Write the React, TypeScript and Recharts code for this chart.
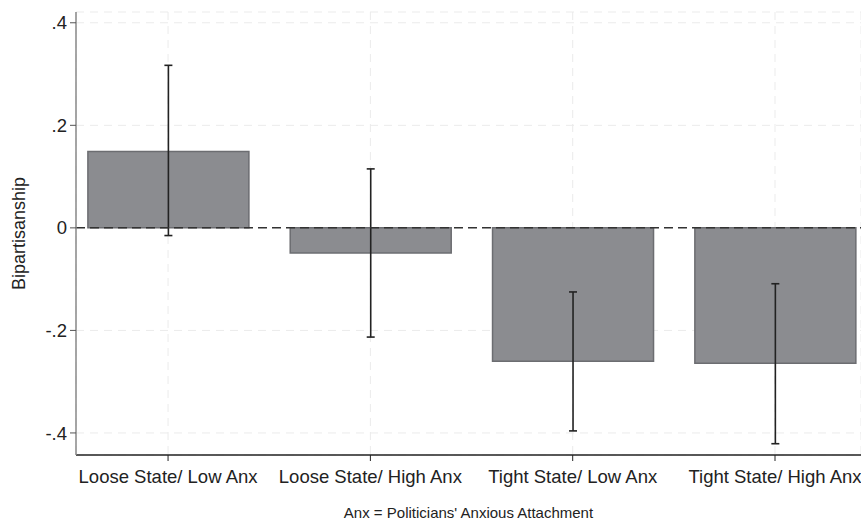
import { BarChart, Bar, XAxis, YAxis, CartesianGrid, ReferenceLine, ErrorBar } from 'recharts';

const categories = ['Loose State/ Low Anx', 'Loose State/ High Anx', 'Tight State/ Low Anx', 'Tight State/ High Anx'];
const means = [0.149, -0.049, -0.26, -0.264];
const ciLow = [-0.015, -0.213, -0.396, -0.421];
const ciHigh = [0.317, 0.115, -0.125, -0.109];
const yTicks = [-0.4, -0.2, 0, 0.2, 0.4];

const data = categories.map((name, i) => ({
  pos: i + 1,
  name,
  value: means[i],
  err: [means[i] - ciLow[i], ciHigh[i] - means[i]],
}));

const font = 'Liberation Sans, Arial, sans-serif';

const fmtY = (v: number) => (v === 0 ? '0' : v.toFixed(1).replace('0.', '.'));

export default function App() {
  return (
    <div style={{ position: 'absolute', left: 0, top: 0, width: 861, height: 520, background: '#fff', fontFamily: font }}>
      <BarChart width={861} height={520} data={data} margin={{ top: 12, right: 0, left: 0, bottom: 0 }}>
        <CartesianGrid stroke="#ebebeb" strokeDasharray="8 6" />
        <XAxis
          dataKey="pos"
          type="number"
          domain={[0.545, 4.425]}
          ticks={[1, 2, 3, 4]}
          tickFormatter={(v: number) => categories[v - 1]}
          height={65}
          axisLine={{ stroke: '#222', strokeWidth: 1.5 }}
          tickLine={{ stroke: '#222' }}
          tickSize={6}
          tickMargin={9}
          tick={{ fill: '#222', fontSize: 18.5, fontFamily: font }}
          interval={0}
          allowDataOverflow
          label={{ value: "Anx = Politicians' Anxious Attachment", position: 'insideBottom', offset: 2, fill: '#222', fontSize: 15, fontFamily: font }}
        />
        <YAxis
          type="number"
          domain={[-0.443, 0.421]}
          ticks={yTicks}
          tickFormatter={fmtY}
          width={76}
          allowDataOverflow
          axisLine={{ stroke: '#888', strokeWidth: 1.5 }}
          tickLine={{ stroke: '#555' }}
          tickSize={6}
          tickMargin={3}
          tick={{ fill: '#222', fontSize: 18.5, fontFamily: font }}
          label={{ value: 'Bipartisanship', angle: -90, position: 'insideLeft', offset: 19, fill: '#222', fontSize: 18, fontFamily: font, style: { textAnchor: 'middle' } }}
        />
        <Bar dataKey="value" barSize={161} fill="#8b8c90" stroke="#6c6d71" strokeWidth={1.5} isAnimationActive={false}>
          <ErrorBar dataKey="err" width={4} stroke="#222" strokeWidth={1.6} direction="y" />
        </Bar>
        <ReferenceLine y={0} stroke="#333" strokeWidth={1.5} strokeDasharray="9 5" />
      </BarChart>
    </div>
  );
}
